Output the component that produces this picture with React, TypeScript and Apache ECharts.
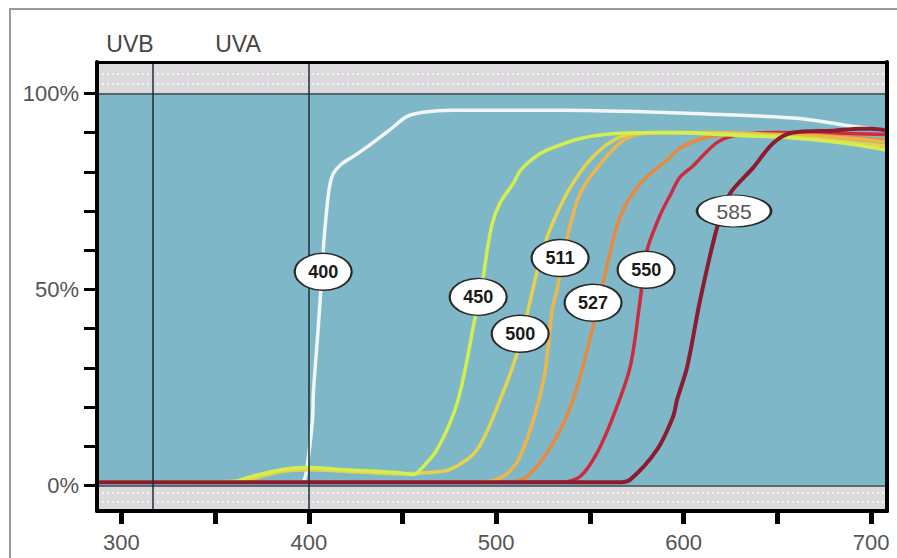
import React, { useEffect, useRef } from "react";
import * as echarts from "echarts";

// ---- data (wavelength nm, transmission %) ----
const curve400: number[][] = [
  [287, 0.8], [396, 0.8], [398, 2], [400, 8], [402, 17], [402.5, 24], [405, 40], [407, 54], [408, 62],
  [409.5, 70], [411, 76], [413, 79.5], [417, 81.8], [424, 84], [433, 87], [443, 90.6], [452, 94],
  [461, 95.2], [477, 95.7], [534, 95.7], [587, 95.2], [620, 94.6], [662, 93.6], [690, 91.6], [708.5, 90.5],
];
const curve450: number[][] = [
  [287, 0.8], [360, 1], [367, 2], [385, 4], [399, 4.6], [420, 4], [447, 3.3], [456, 2.8], [458, 3.3],
  [468.5, 9.2], [479.7, 21.9], [488.8, 43], [493, 53], [495.2, 60], [498, 67], [502, 72], [509, 77],
  [513, 80.4], [520, 83.5], [527, 85.5], [545, 88.5], [566, 89.8], [590, 90], [620, 89.5],
  [662, 88.5], [690, 87], [708.5, 85.5],
];
const curve500: number[][] = [
  [287, 0.8], [360, 1], [385, 3.5], [400, 4], [420, 3.6], [450, 3], [460, 3.2], [475.5, 4.1],
  [489.9, 9.2], [502.1, 21.9], [511.2, 33.8], [517, 44.8], [522, 55], [527.2, 63.4], [533, 70],
  [539.5, 76], [550, 83], [562.4, 88], [575, 89.8], [600, 90], [640, 89.3], [680, 88], [708.5, 86.5],
];
const curve511: number[][] = [
  [287, 0.8], [490, 0.8], [503.7, 2.3], [512.8, 7.4], [525, 26.2], [529.9, 44.8], [532.5, 50],
  [537.9, 63.4], [544.8, 74.5], [553.9, 81], [567.7, 88], [580, 89.8], [610, 90], [650, 89.5],
  [690, 88.5], [708.5, 87.5],
];
const curve527: number[][] = [
  [287, 0.8], [505, 0.8], [516.5, 2.3], [530.4, 10.9], [541, 21.9], [551.7, 40.5], [557, 51.7],
  [566, 68.4], [576.8, 77], [591, 83], [598, 86], [610, 88.5], [625, 89.5], [660, 89.5], [708.5, 88],
];
const curve550: number[][] = [
  [287, 0.8], [535, 0.8], [544.8, 2.3], [553.9, 8.4], [562.4, 17.6], [571.5, 30.3], [576.8, 47.3],
  [580.5, 60], [587.5, 69], [592.8, 74], [598, 78.6], [605, 81.5], [617.9, 87.5], [630, 89.5],
  [650, 90], [680, 89.8], [708.5, 89.5],
];
const curve585: number[][] = [
  [287, 0.8], [565, 0.8], [571.5, 1.5], [585.9, 9.2], [594.4, 17.6], [596.5, 21.9], [601.9, 30.3],
  [608.8, 47.3], [617.9, 65.9], [624.8, 74.5], [637, 81], [647.7, 87.3], [658.4, 90], [680, 90.5],
  [694, 91], [700, 91], [708.5, 90.5],
];

const labelNames = ["400", "450", "500", "511", "527", "550", "585"];
const labelX = [407.7, 490.4, 512.8, 534.1, 551.7, 580.0, 626.9];
const labelY = [54.5, 48.1, 38.7, 58.0, 46.6, 55.0, 70.0];

const xTicks = [300, 350, 400, 450, 500, 550, 600, 650, 700];
const xTickLabels = [300, 400, 500, 600, 700];
const yTicks = [0, 10, 20, 30, 40, 50, 60, 70, 80, 90, 100];
const yTickLabels = [0, 50, 100];
const regionBounds = [317, 400];

const FONT = '"Liberation Sans", Arial, sans-serif';

export default function App() {
  const ref = useRef<HTMLDivElement>(null);
  useEffect(() => {
    const chart = echarts.init(ref.current!, null, { renderer: "svg" });
    const curveSeries = (name: string, data: number[][], color: string, width = 3.5) => ({
      name,
      type: "line",
      data,
      smooth: 0.3,
      showSymbol: false,
      symbol: "none",
      silent: true,
      lineStyle: { color, width, cap: "round", join: "round" },
      z: 3,
    });
    const labelData = labelNames.map((n, i) => {
      const is585 = n === "585";
      return {
        name: n,
        value: [labelX[i], labelY[i]],
        symbolSize: is585 ? [74, 32] : [57, 37],
        label: is585
          ? { fontWeight: "normal", color: "#555", fontSize: 21 }
          : { fontWeight: "bold", color: "#1a1a1a", fontSize: 18 },
      };
    });
    const dotted = (v: number) => ({
      yAxis: v,
      lineStyle: { color: "rgba(255,255,255,0.95)", type: [2, 3], width: 1.5 },
    });
    chart.setOption({
      animation: false,
      backgroundColor: "#ffffff",
      textStyle: { fontFamily: FONT },
      grid: {
        left: 97, right: 10, top: 62, bottom: 47,
        show: true, backgroundColor: "#7eb8c8", borderWidth: 0,
      },
      xAxis: [
        {
          type: "value", min: 287, max: 708.5, z: 10,
          axisLine: { show: true, onZero: false, lineStyle: { color: "#000", width: 4 } },
          axisTick: { show: true, customValues: xTicks, length: 13, lineStyle: { color: "#000", width: 5 } },
          axisLabel: { customValues: xTickLabels, margin: 20, fontSize: 22, color: "#555", fontFamily: FONT },
          splitLine: { show: false },
        },
        {
          type: "value", min: 287, max: 708.5, position: "top", z: 10,
          axisLine: { show: true, onZero: false, lineStyle: { color: "#000", width: 3 } },
          axisTick: { show: false }, axisLabel: { show: false }, splitLine: { show: false },
        },
      ],
      yAxis: [
        {
          type: "value", min: -6.5, max: 108, z: 10,
          axisLine: { show: true, onZero: false, lineStyle: { color: "#000", width: 4 } },
          axisTick: { show: true, customValues: yTicks, length: 13, lineStyle: { color: "#000", width: 3 } },
          axisLabel: { customValues: yTickLabels, formatter: "{value}%", margin: 18, fontSize: 22, color: "#555", fontFamily: FONT },
          splitLine: { show: false },
        },
        {
          type: "value", min: -6.5, max: 108, position: "right", z: 10,
          axisLine: { show: true, onZero: false, lineStyle: { color: "#000", width: 4 } },
          axisTick: { show: false }, axisLabel: { show: false }, splitLine: { show: false },
        },
      ],
      graphic: [
        {
          type: "rect", shape: { x: 10, y: 9, width: 900, height: 600 }, silent: true,
          style: { fill: "none", stroke: "#9a9a9a", lineWidth: 2 },
        },
        {
          type: "text", x: 130, y: 44,
          style: { text: "UVB", fill: "#444", font: `23px ${FONT}`, align: "center", verticalAlign: "middle", textAlign: "center", textVerticalAlign: "middle" },
        },
        {
          type: "text", x: 238, y: 44,
          style: { text: "UVA", fill: "#444", font: `23px ${FONT}`, align: "center", verticalAlign: "middle", textAlign: "center", textVerticalAlign: "middle" },
        },
      ],
      series: [
        {
          name: "bg", type: "line", data: [[287, 50], [708.5, 50]], showSymbol: false, symbol: "none",
          silent: true, lineStyle: { opacity: 0 }, z: 1,
          markArea: {
            silent: true,
            itemStyle: { color: "#dcdadc" },
            data: [
              [{ yAxis: 100 }, { yAxis: 108 }],
              [{ yAxis: -6.5 }, { yAxis: 0 }],
            ],
          },
          markLine: {
            silent: true, symbol: ["none", "none"], label: { show: false },
            lineStyle: { color: "#1c2c32", width: 1.5, type: "solid" },
            data: [
              dotted(102.5), dotted(105), dotted(-1.8), dotted(-4.2),
              { yAxis: 100, lineStyle: { color: "#3a4a50", width: 1.5, type: "solid" } },
              { yAxis: 0, lineStyle: { color: "#3a4a50", width: 1.5, type: "solid" } },
              { xAxis: regionBounds[0] },
              { xAxis: regionBounds[1] },
            ],
          },
        },
        curveSeries("400", curve400, "#f2f6f4"),
        curveSeries("550", curve550, "#cf2a3e"),
        curveSeries("527", curve527, "#e8893e"),
        curveSeries("511", curve511, "#eeb648"),
        curveSeries("500", curve500, "#e6d24c"),
        curveSeries("450", curve450, "#d4ee50"),
        curveSeries("585", curve585, "#8c1c30", 4),
        {
          name: "labels", type: "scatter", symbol: "circle", data: labelData, z: 5, silent: true,
          itemStyle: { color: "#ffffff", borderColor: "#2a2a2a", borderWidth: 1.8, opacity: 1 },
          label: { show: true, position: "inside", formatter: "{b}", fontFamily: FONT },
        },
      ],
    });
    return () => chart.dispose();
  }, []);
  return (
    <div
      ref={ref}
      style={{ position: "fixed", left: 0, top: 0, width: 897, height: 558, background: "#fff" }}
    />
  );
}
